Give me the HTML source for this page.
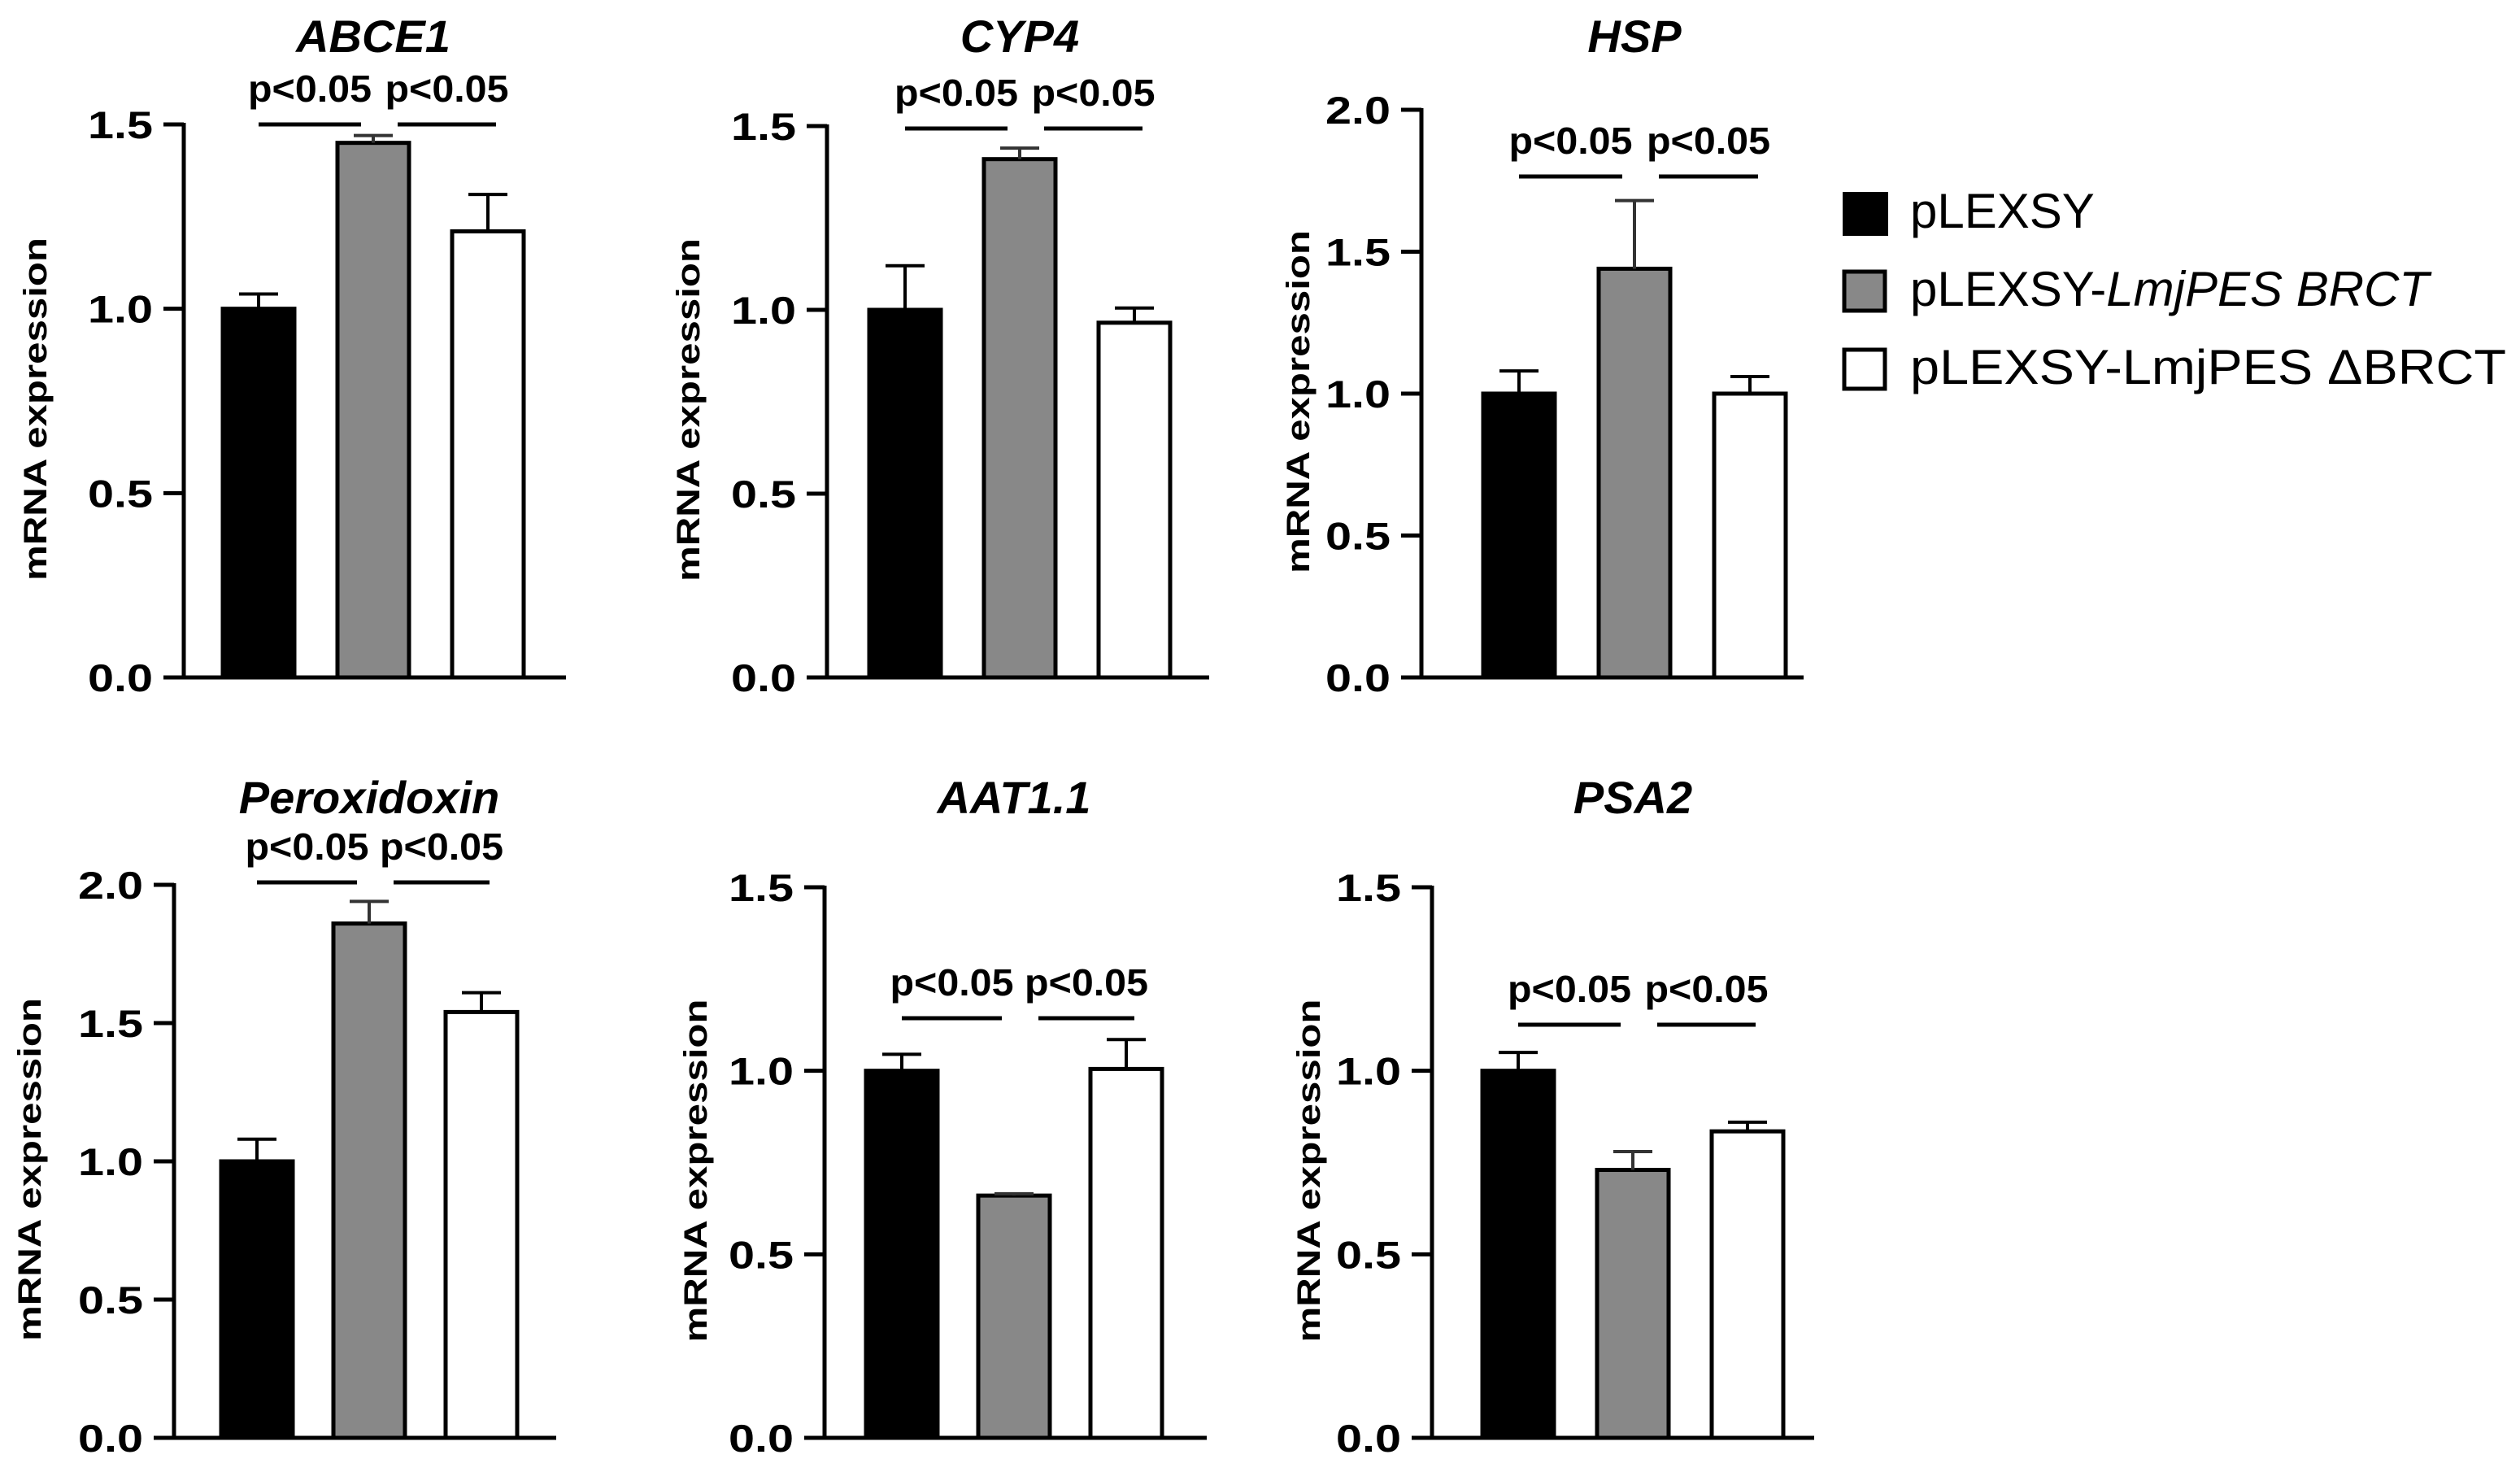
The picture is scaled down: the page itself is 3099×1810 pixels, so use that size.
<!DOCTYPE html>
<html><head><meta charset="utf-8"><style>
html,body{margin:0;padding:0;background:#fff;}
svg{display:block;}
text{font-family:"Liberation Sans",Arial,sans-serif;}
</style></head>
<body>
<svg id="fig" width="3099" height="1810" viewBox="0 0 3099 1810" xmlns="http://www.w3.org/2000/svg">
<rect width="3099" height="1810" fill="#fff"/>
<g id="legend">
  <rect x="2268" y="238" width="52" height="50" fill="#000" stroke="#000" stroke-width="4"/>
  <text x="2349" y="280" font-size="60">pLEXSY</text>
  <rect x="2268" y="334" width="50" height="48" fill="#888" stroke="#000" stroke-width="5"/>
  <text x="2349" y="376" font-size="60">pLEXSY-<tspan font-style="italic">LmjPES BRCT</tspan></text>
  <rect x="2268" y="430" width="50" height="48" fill="#fff" stroke="#000" stroke-width="5"/>
  <text x="2349" y="472" font-size="60" textLength="733" lengthAdjust="spacingAndGlyphs">pLEXSY-LmjPES ΔBRCT</text>
</g>
</svg>
<script>
// ---- data ----
const titles = ["ABCE1", "CYP4", "HSP", "Peroxidoxin", "AAT1.1", "PSA2"];
const groups = ["pLEXSY", "pLEXSY-LmjPES BRCT", "pLEXSY-LmjPES dBRCT"];
const means_ABCE1 = [1.00, 1.45, 1.21];
const err_ABCE1 = [0.04, 0.02, 0.10];
const means_CYP4 = [1.00, 1.41, 0.965];
const err_CYP4 = [0.12, 0.03, 0.04];
const means_HSP = [1.00, 1.44, 1.00];
const err_HSP = [0.08, 0.24, 0.06];
const means_Perox = [1.00, 1.86, 1.54];
const err_Perox = [0.08, 0.08, 0.07];
const means_AAT = [1.00, 0.66, 1.005];
const err_AAT = [0.045, 0.005, 0.08];
const means_PSA2 = [1.00, 0.73, 0.835];
const err_PSA2 = [0.05, 0.05, 0.025];
const allMeans = [means_ABCE1, means_CYP4, means_HSP, means_Perox, means_AAT, means_PSA2];
const allErr = [err_ABCE1, err_CYP4, err_HSP, err_Perox, err_AAT, err_PSA2];
const yMaxes = [1.5, 1.5, 2.0, 2.0, 1.5, 1.5];
const tickLabels15 = ["0.0", "0.5", "1.0", "1.5"];
const tickLabels20 = ["0.0", "0.5", "1.0", "1.5", "2.0"];
const sigLabel = "p<0.05";

// ---- layout ----
const layout = [
  {ax:226, y0:833, yTop:153, bs:48, gap:141, sigY:153, lab:183, titleY:64},
  {ax:1017, y0:833, yTop:155, bs:52, gap:141, sigY:158, lab:171, titleY:64},
  {ax:1748, y0:833, yTop:135, bs:76, gap:142, sigY:217, lab:152, titleY:64},
  {ax:214, y0:1768, yTop:1088, bs:58, gap:138, sigY:1085, lab:178, titleY:1000},
  {ax:1014, y0:1768, yTop:1091, bs:51, gap:138, sigY:1252, lab:159, titleY:1000},
  {ax:1761, y0:1768, yTop:1091, bs:62, gap:141, sigY:1260, lab:152, titleY:1000}
];
const fills = ["#000", "#888", "#fff"];
const NS = "http://www.w3.org/2000/svg";
const svg = document.getElementById("fig");
function mk(tag, attrs, parent) {
  const e = document.createElementNS(NS, tag);
  for (const k in attrs) e.setAttribute(k, attrs[k]);
  parent.appendChild(e);
  return e;
}
const bw = 88;
titles.forEach((t, p) => {
  const L = layout[p];
  const ymax = yMaxes[p];
  const yScale = v => L.y0 - (v / ymax) * (L.y0 - L.yTop);
  const xLeft = i => L.ax + L.bs + i * L.gap;
  const xCenter = i => xLeft(i) + bw / 2;
  const g = mk("g", {}, svg);
  
  

  const title = mk("text", {x: xCenter(1), y: L.titleY, "font-size": 56, "font-weight": "bold", "font-style": "italic", "text-anchor": "middle"}, g);
  title.textContent = t;
  
  

  allMeans[p].forEach((m, i) => {
    const y = yScale(m);
    const bar = mk("rect", {x: xLeft(i), y: y, width: bw, height: L.y0 - y, fill: fills[i], stroke: "#000", "stroke-width": 5}, g);
    
    
    const ye = yScale(m + allErr[p][i]);
    const eb = mk("path", {d: `M${xCenter(i)} ${y} V${ye} M${xCenter(i) - 24} ${ye} H${xCenter(i) + 24}`, stroke: i === 1 ? "#333" : "#000", "stroke-width": 4, fill: "none"}, g);
    
    
  });

  const yax = mk("line", {x1: L.ax, y1: L.yTop - 2, x2: L.ax, y2: L.y0, stroke: "#000", "stroke-width": 5}, g);
  
  
  const xax = mk("line", {x1: L.ax - 25, y1: L.y0, x2: L.ax + 470, y2: L.y0, stroke: "#000", "stroke-width": 5}, g);
  
  
  const labels = ymax === 2.0 ? tickLabels20 : tickLabels15;
  labels.forEach((lab, k) => {
    const v = k * 0.5;
    const y = yScale(v);
    const tk = mk("line", {x1: L.ax - 25, y1: y, x2: L.ax, y2: y, stroke: "#000", "stroke-width": 5}, g);
    
    
    const tx = mk("text", {x: L.ax - 118, y: y + 17, "font-size": 47, "font-weight": "bold", textLength: 80, lengthAdjust: "spacingAndGlyphs"}, g);
    tx.textContent = lab;
    
    
  });
  const cy = (L.y0 + L.yTop) / 2 + 10;
  const yl = mk("text", {x: 0, y: 0, "font-size": 40, "font-weight": "bold", "text-anchor": "middle", textLength: 422, lengthAdjust: "spacingAndGlyphs", transform: `translate(${L.ax - L.lab + 14},${cy}) rotate(-90)`}, g);
  yl.textContent = "mRNA expression";
  
  

  const seg = [[xCenter(0), xCenter(1) - 15], [xCenter(1) + 30, xCenter(2) + 10]];
  seg.forEach((s, j) => {
    const ln = mk("line", {x1: s[0], y1: L.sigY, x2: s[1], y2: L.sigY, stroke: "#000", "stroke-width": 5}, g);
    
    
    const pt = mk("text", {x: (s[0] + s[1]) / 2 - 76, y: L.sigY - 28, "font-size": 46, "font-weight": "bold", textLength: 152, lengthAdjust: "spacingAndGlyphs"}, g);
    pt.textContent = sigLabel;
    
    
  });
});
</script>
</body></html>
